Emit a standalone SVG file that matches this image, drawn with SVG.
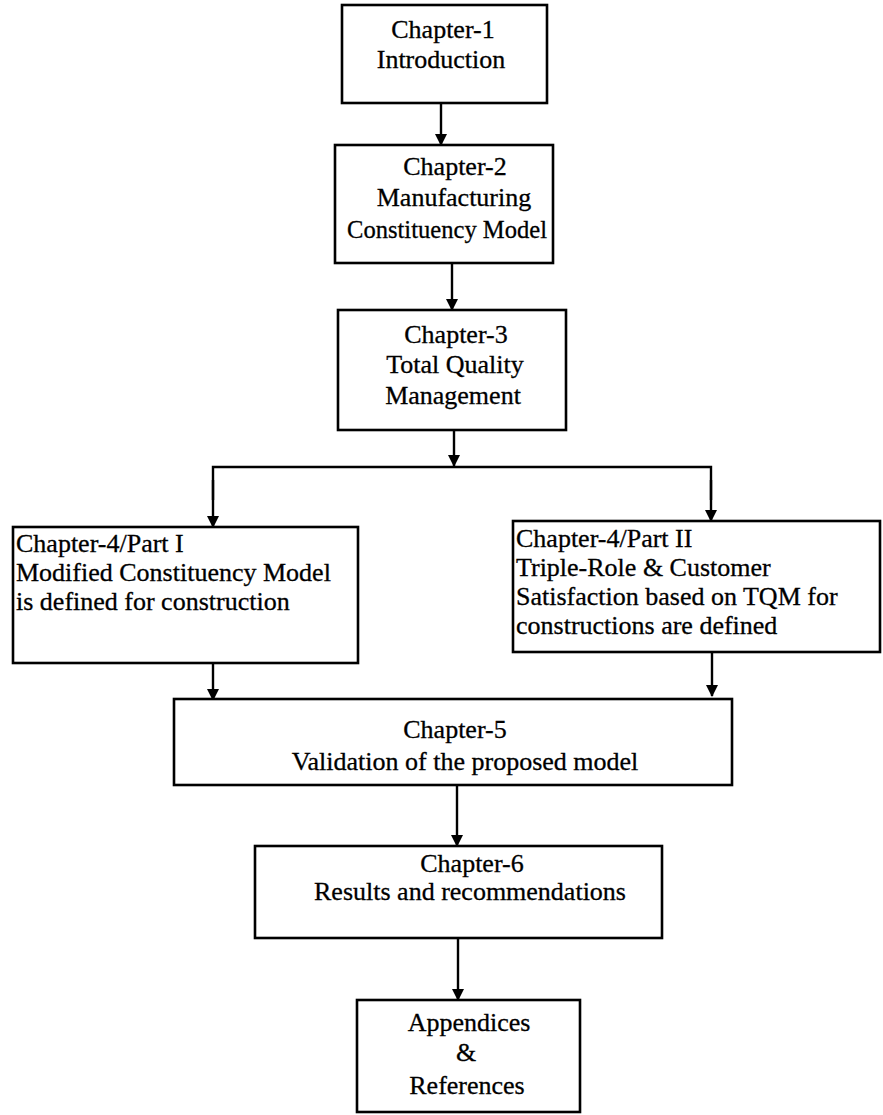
<svg xmlns="http://www.w3.org/2000/svg" width="883" height="1115" viewBox="0 0 883 1115">
<style>
  .box { fill: #ffffff; stroke: #000000; stroke-width: 2.6; }
  .t { font-family: "Liberation Serif", "Times New Roman", serif; font-size: 26px; fill: #000000; stroke: #000000; stroke-width: 0.3; }
  .c { text-anchor: middle; }
  .conn { stroke: #000000; stroke-width: 2.4; fill: none; }
</style>
<defs>
  <marker id="ah" markerUnits="userSpaceOnUse" markerWidth="14" markerHeight="14" refX="12" refY="7" orient="auto" viewBox="0 0 14 14">
    <path d="M1,1 L13,7 L1,13 Z" fill="#000000"/>
  </marker>
</defs>
<rect width="883" height="1115" fill="#ffffff"/>

<g id="connectors">
  <line class="conn" x1="441" y1="103" x2="441" y2="145" marker-end="url(#ah)"/>
  <line class="conn" x1="452" y1="263" x2="452" y2="310" marker-end="url(#ah)"/>
  <line class="conn" x1="454" y1="430" x2="454" y2="466" marker-end="url(#ah)"/>
  <polyline class="conn" points="213,500 213,467 711,467 711,500"/>
  <line class="conn" x1="213" y1="480" x2="213" y2="527" marker-end="url(#ah)"/>
  <line class="conn" x1="711" y1="480" x2="711" y2="521" marker-end="url(#ah)"/>
  <line class="conn" x1="213" y1="663" x2="213" y2="700" marker-end="url(#ah)"/>
  <line class="conn" x1="712" y1="652" x2="712" y2="696" marker-end="url(#ah)"/>
  <line class="conn" x1="457" y1="785" x2="457" y2="846" marker-end="url(#ah)"/>
  <line class="conn" x1="458" y1="938" x2="458" y2="1000" marker-end="url(#ah)"/>
</g>

<g id="ch1">
  <rect class="box" x="342" y="5" width="205" height="98"/>
  <text class="t c" x="443" y="38">Chapter-1</text>
  <text class="t c" x="441" y="68">Introduction</text>
</g>

<g id="ch2">
  <rect class="box" x="335" y="145" width="218" height="118"/>
  <text class="t c" x="455" y="175">Chapter-2</text>
  <text class="t c" x="454" y="206">Manufacturing</text>
  <text class="t c" x="447" y="238" textLength="200" lengthAdjust="spacingAndGlyphs">Constituency Model</text>
</g>

<g id="ch3">
  <rect class="box" x="338" y="310" width="228" height="120"/>
  <text class="t c" x="456" y="343">Chapter-3</text>
  <text class="t c" x="455" y="373">Total Quality</text>
  <text class="t c" x="453" y="404">Management</text>
</g>

<g id="ch4a">
  <rect class="box" x="13" y="527" width="345" height="136"/>
  <text class="t" x="16" y="552">Chapter-4/Part I</text>
  <text class="t" x="16" y="581">Modified Constituency Model</text>
  <text class="t" x="16" y="610">is defined for construction</text>
</g>

<g id="ch4b">
  <rect class="box" x="513" y="521" width="367" height="131"/>
  <text class="t" x="516" y="547">Chapter-4/Part II</text>
  <text class="t" x="516" y="576">Triple-Role &amp; Customer</text>
  <text class="t" x="516" y="605">Satisfaction based on TQM for</text>
  <text class="t" x="516" y="634">constructions are defined</text>
</g>

<g id="ch5">
  <rect class="box" x="174" y="699" width="558" height="86"/>
  <text class="t c" x="455" y="738">Chapter-5</text>
  <text class="t c" x="465" y="770">Validation of the proposed model</text>
</g>

<g id="ch6">
  <rect class="box" x="255" y="846" width="407" height="92"/>
  <text class="t c" x="472" y="872">Chapter-6</text>
  <text class="t c" x="470" y="900">Results and recommendations</text>
</g>

<g id="app">
  <rect class="box" x="357" y="1000" width="223" height="112"/>
  <text class="t c" x="469" y="1031">Appendices</text>
  <text class="t c" x="466" y="1061">&amp;</text>
  <text class="t c" x="467" y="1094">References</text>
</g>
</svg>
